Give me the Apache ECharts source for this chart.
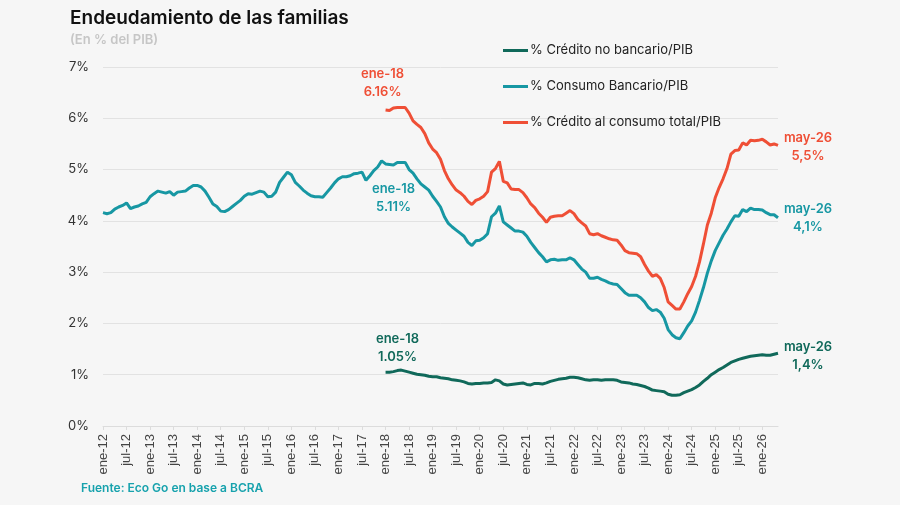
<!DOCTYPE html>
<html>
<head>
<meta charset="utf-8">
<script src="https://cdn.jsdelivr.net/npm/echarts@6/dist/echarts.min.js"></script>
<style>
  html, body { margin: 0; padding: 0; background: #f6f6f6; }
  #chart { width: 900px; height: 505px; }
</style>
</head>
<body>
<div id="chart"></div>
<script>
// meses ene-12 .. may-26
const meses = ['ene', 'feb', 'mar', 'abr', 'may', 'jun', 'jul', 'ago', 'sep', 'oct', 'nov', 'dic']
const categories = []
for (let y = 12; y <= 26; y++) {
  for (let m = 0; m < 12; m++) {
    if (y === 26 && m > 4) break
    categories.push(meses[m] + '-' + y)
  }
}

// % Consumo Bancario/PIB (ene-12 .. may-26)
const consumoBancario = [
  4.16, 4.14, 4.16, 4.23, 4.27, 4.30, 4.35, 4.24, 4.27, 4.29, 4.33, 4.36,
  4.47, 4.53, 4.58, 4.56, 4.54, 4.57, 4.50, 4.56, 4.57, 4.58, 4.64, 4.69,
  4.69, 4.66, 4.58, 4.46, 4.33, 4.28, 4.19, 4.18, 4.22, 4.28, 4.34, 4.40,
  4.48, 4.53, 4.52, 4.55, 4.58, 4.56, 4.47, 4.48, 4.56, 4.75, 4.85, 4.95,
  4.90, 4.75, 4.68, 4.60, 4.54, 4.49, 4.47, 4.47, 4.46, 4.55, 4.64, 4.74,
  4.82, 4.86, 4.86, 4.88, 4.92, 4.93, 4.95, 4.79, 4.88, 4.98, 5.05, 5.17,
  5.11, 5.10, 5.09, 5.14, 5.14, 5.14, 5.00, 4.93, 4.82, 4.72, 4.66, 4.60,
  4.48, 4.38, 4.27, 4.08, 3.95, 3.88, 3.82, 3.76, 3.70, 3.58, 3.52, 3.61,
  3.62, 3.67, 3.75, 4.08, 4.15, 4.29, 3.98, 3.92, 3.86, 3.80, 3.80, 3.78,
  3.70, 3.58, 3.48, 3.38, 3.30, 3.20, 3.24, 3.25, 3.23, 3.24, 3.24, 3.28,
  3.24, 3.15, 3.06, 3.00, 2.88, 2.88, 2.90, 2.86, 2.83, 2.79, 2.77, 2.76,
  2.68, 2.60, 2.55, 2.55, 2.55, 2.50, 2.42, 2.31, 2.25, 2.27, 2.22, 2.10,
  1.88, 1.78, 1.72, 1.70, 1.82, 1.95, 2.05, 2.22, 2.45, 2.70, 2.98, 3.22,
  3.42, 3.57, 3.72, 3.84, 3.98, 4.10, 4.09, 4.22, 4.18, 4.25, 4.22, 4.22,
  4.21, 4.16, 4.12, 4.12, 4.06
]

// % Crédito al consumo total/PIB (ene-18 .. may-26)
const consumoTotal = [
  6.16, 6.15, 6.20, 6.21, 6.21, 6.21, 6.10, 5.95, 5.88, 5.82, 5.70, 5.52,
  5.40, 5.33, 5.20, 4.98, 4.82, 4.70, 4.60, 4.55, 4.48, 4.38, 4.32, 4.40,
  4.43, 4.48, 4.57, 4.95, 5.02, 5.16, 4.77, 4.74, 4.62, 4.61, 4.61, 4.55,
  4.45, 4.33, 4.26, 4.15, 4.07, 3.97, 4.07, 4.09, 4.10, 4.10, 4.15, 4.20,
  4.14, 4.03, 3.96, 3.90, 3.75, 3.73, 3.75, 3.71, 3.68, 3.65, 3.63, 3.62,
  3.53, 3.42, 3.38, 3.37, 3.36, 3.30, 3.15, 3.02, 2.92, 2.95, 2.88, 2.70,
  2.42, 2.35, 2.28, 2.28, 2.42, 2.58, 2.72, 2.92, 3.20, 3.55, 3.92, 4.15,
  4.45, 4.65, 4.82, 5.02, 5.30, 5.37, 5.38, 5.52, 5.48, 5.57, 5.56, 5.57,
  5.59, 5.54, 5.48, 5.50, 5.47
]

// % Crédito no bancario/PIB (ene-18 .. may-26)
const noBancario = [
  1.05, 1.05, 1.06, 1.08, 1.09, 1.07, 1.05, 1.03, 1.01, 1.00, 0.99, 0.97,
  0.96, 0.96, 0.94, 0.93, 0.92, 0.90, 0.89, 0.88, 0.86, 0.83, 0.82, 0.83,
  0.83, 0.84, 0.84, 0.85, 0.90, 0.88, 0.82, 0.80, 0.81, 0.82, 0.83, 0.84,
  0.81, 0.80, 0.83, 0.83, 0.82, 0.84, 0.87, 0.89, 0.91, 0.92, 0.93, 0.95,
  0.95, 0.94, 0.92, 0.90, 0.89, 0.90, 0.90, 0.89, 0.90, 0.90, 0.90, 0.89,
  0.86, 0.85, 0.84, 0.82, 0.81, 0.79, 0.77, 0.74, 0.70, 0.69, 0.68, 0.67,
  0.62, 0.60, 0.60, 0.61, 0.65, 0.68, 0.71, 0.75, 0.80, 0.87, 0.93, 1.00,
  1.05, 1.10, 1.14, 1.19, 1.24, 1.27, 1.30, 1.32, 1.34, 1.36, 1.37, 1.38,
  1.39, 1.38, 1.38, 1.40, 1.42
]

const yTicks = [0, 1, 2, 3, 4, 5, 6, 7]

const startIdx = categories.indexOf('ene-18')
const lastIdx = categories.length - 1
const pad = (arr) => new Array(startIdx).fill(null).concat(arr)

const colVerde = '#10695a'
const colTeal = '#1797a3'
const colRojo = '#ef4f36'

const etiqueta = (coord, text, color, offset) => ({
  coord: coord,
  symbolSize: 0,
  label: {
    show: true,
    position: 'inside',
    offset: offset,
    formatter: text,
    color: color,
    fontSize: 13,
    fontWeight: 600,
    lineHeight: 18,
    fontFamily: 'Inter'
  }
})

const myChart = echarts.init(document.getElementById('chart'))
const option = {
  backgroundColor: '#f6f6f6',
  textStyle: { fontFamily: 'Inter' },
  animation: false,
  title: {
    text: 'Endeudamiento de las familias',
    subtext: '(En % del PIB)',
    left: 65,
    top: 4,
    itemGap: 6,
    textStyle: { fontSize: 19, fontWeight: 600, color: '#111', fontFamily: 'Inter' },
    subtextStyle: { fontSize: 13, fontWeight: 600, color: '#c6c6c6', fontFamily: 'Inter' }
  },
  legend: {
    orient: 'vertical',
    left: 498,
    top: 39,
    itemGap: 23,
    itemWidth: 25,
    itemHeight: 3,
    icon: 'rect',
    textStyle: { fontSize: 13, color: '#222', fontFamily: 'Inter', padding: [0, 0, 0, -3] },
    data: ['% Crédito no bancario/PIB', '% Consumo Bancario/PIB', '% Crédito al consumo total/PIB']
  },
  grid: { left: 103, right: 122, top: 67, bottom: 79 },
  xAxis: {
    type: 'category',
    data: categories,
    boundaryGap: false,
    axisLine: { lineStyle: { color: '#dcdcdc' } },
    axisTick: { show: true, interval: 5, length: 4, lineStyle: { color: '#dcdcdc' } },
    axisLabel: { interval: 5, rotate: 90, color: '#444', fontSize: 13, margin: 8, fontFamily: 'Liberation Sans' }
  },
  yAxis: {
    type: 'value',
    min: yTicks[0],
    max: yTicks[yTicks.length - 1],
    interval: 1,
    axisLine: { show: false },
    axisTick: { show: false },
    axisLabel: { formatter: '{value}%', color: '#333', fontSize: 13, margin: 14, fontFamily: 'Inter' },
    splitLine: { lineStyle: { color: '#e2e2e2' } }
  },
  series: [
    {
      name: '% Crédito no bancario/PIB',
      type: 'line',
      data: pad(noBancario),
      showSymbol: false,
      lineStyle: { width: 3, color: colVerde },
      itemStyle: { color: colVerde },
      markPoint: {
        symbol: 'circle',
        data: [
          etiqueta([startIdx, noBancario[0]], 'ene-18\n1.05%', colVerde, [12, -24]),
          etiqueta([lastIdx, noBancario[noBancario.length - 1]], 'may-26\n1,4%', colVerde, [30, 3])
        ]
      }
    },
    {
      name: '% Consumo Bancario/PIB',
      type: 'line',
      data: consumoBancario,
      showSymbol: false,
      lineStyle: { width: 3, color: colTeal },
      itemStyle: { color: colTeal },
      markPoint: {
        symbol: 'circle',
        data: [
          etiqueta([startIdx, consumoBancario[startIdx]], 'ene-18\n5.11%', colTeal, [8, 34]),
          etiqueta([lastIdx, consumoBancario[lastIdx]], 'may-26\n4,1%', colTeal, [30, 0])
        ]
      }
    },
    {
      name: '% Crédito al consumo total/PIB',
      type: 'line',
      data: pad(consumoTotal),
      showSymbol: false,
      lineStyle: { width: 3, color: colRojo },
      itemStyle: { color: colRojo },
      markPoint: {
        symbol: 'circle',
        data: [
          etiqueta([startIdx, consumoTotal[0]], 'ene-18\n6.16%', colRojo, [-3, -27]),
          etiqueta([lastIdx, consumoTotal[consumoTotal.length - 1]], 'may-26\n5,5%', colRojo, [30, 2])
        ]
      }
    }
  ],
  graphic: [
    {
      type: 'text',
      left: 81,
      top: 482,
      style: { text: 'Fuente: Eco Go en base a BCRA', fill: '#17a2ad', font: '600 12px Inter' }
    }
  ]
}
myChart.setOption(option)
</script>
</body>
</html>
